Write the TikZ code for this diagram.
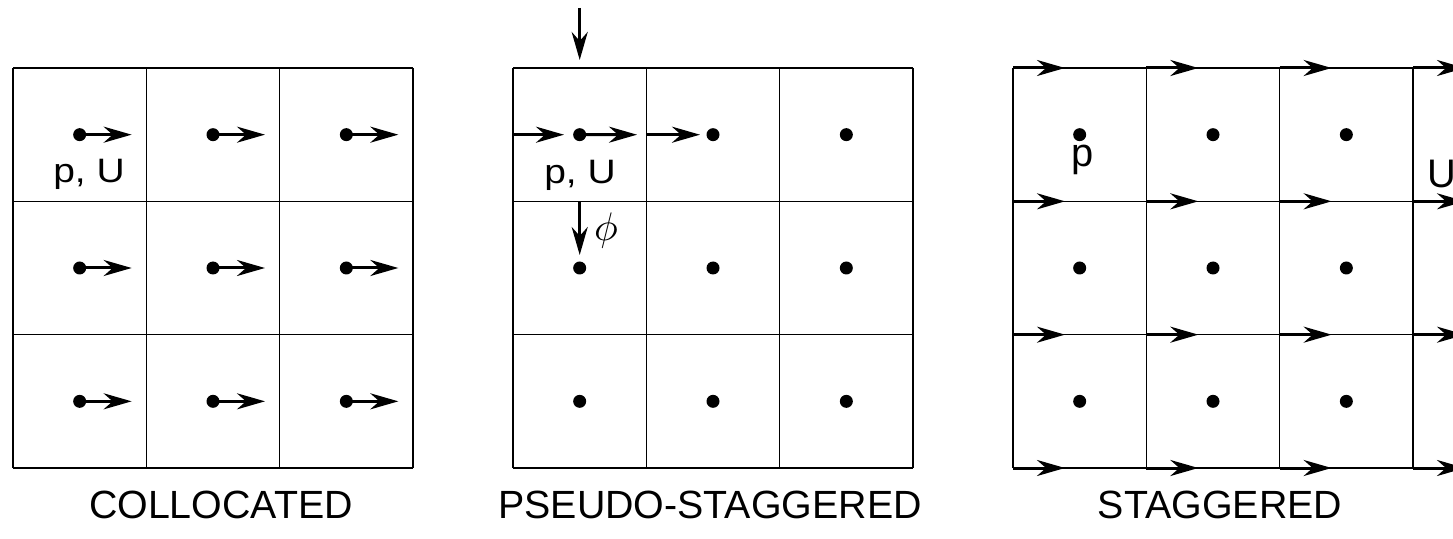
\documentclass[tikz,border=0pt]{standalone}
\usepackage{fontspec}
\setmainfont{Liberation Sans}
\usetikzlibrary{arrows.meta}
\begin{document}
\begin{tikzpicture}[x=1bp,y=-1bp,
  cellline/.style={line width=1.3bp, black},
  vec/.style={line width=3bp, -{Stealth[length=28bp,width=16bp,inset=9bp]}},
  pt/.style={circle, fill=black, inner sep=0pt, minimum size=13bp},
  lbl/.style={inner sep=0pt, font=\fontsize{34}{34}\selectfont},
  biglbl/.style={inner sep=0pt, font=\fontsize{40}{40}\selectfont},
  philbl/.style={inner sep=0pt},
  title/.style={inner sep=0pt, font=\fontsize{39.5}{40}\selectfont}]
\useasboundingbox (0,0) rectangle (1453,539);
\clip (0,0) rectangle (1453,539);
\def\cs{133.333}
% the three 3x3 grids
\foreach \ox in {13,513,1013}{
  \foreach \k in {0,...,3}{
    \draw[cellline] (\ox+\k*\cs,68) -- (\ox+\k*\cs,468);
    \draw[cellline] (\ox,68+\k*\cs) -- (\ox+400,68+\k*\cs);
  }
}
% collocated: pressure and velocity at every cell centre
\foreach \i in {0,1,2}{
  \foreach \j in {0,1,2}{
    \node[pt] (c\i\j) at (13+\cs*\i+\cs/2, 68+\cs*\j+\cs/2) {};
    \coordinate (ct\i\j) at (13+\cs*\i+\cs/2+52, 68+\cs*\j+\cs/2);
    \draw[vec] (c\i\j.center) -- (ct\i\j);
  }
}
\node[lbl, anchor=base] (clab) at (89,183) {\scalebox{1.15}[1]{p, U}};
\node[title, anchor=base] (ctitle) at (221,518) {COLLOCATED};

% pseudo-staggered: cell centres plus face fluxes
\foreach \i in {0,1,2}{
  \foreach \j in {0,1,2}{
    \node[pt] (m\i\j) at (513+\cs*\i+\cs/2, 68+\cs*\j+\cs/2) {};
  }
}
\coordinate (mfa) at (513,134.7);
\coordinate (mfat) at (564,134.7);
\coordinate (mcu) at (637,134.7);
\coordinate (mfb) at (646.3,134.7);
\coordinate (mfbt) at (700,134.7);
\coordinate (mtop) at (579.7,8);
\coordinate (mtopt) at (579.7,60);
\coordinate (mphi) at (579.7,201.3);
\coordinate (mphit) at (579.7,255);
\draw[vec] (mfa) -- (mfat);
\draw[vec] (m00.center) -- (mcu);
\draw[vec] (mfb) -- (mfbt);
\draw[vec] (mtop) -- (mtopt);
\draw[vec] (mphi) -- (mphit);
\node[lbl, anchor=base] (mlab) at (580,184) {\scalebox{1.15}[1]{p, U}};
\node[philbl] (mphil) at (606,231) {\scalebox{4}{$\phi$}};
\node[title, anchor=base] (mtitle) at (710,518) {PSEUDO-STAGGERED};

% staggered: pressure at centres, velocity on the faces
\foreach \i in {0,1,2}{
  \foreach \j in {0,1,2}{
    \node[pt] (s\i\j) at (1013+\cs*\i+\cs/2, 68+\cs*\j+\cs/2) {};
  }
}
\foreach \i in {0,...,3}{
  \foreach \j in {0,...,3}{
    \coordinate (sa\i\j) at (1013+\cs*\i, 68+\cs*\j);
    \coordinate (st\i\j) at (1013+\cs*\i+52, 68+\cs*\j);
    \draw[vec] (sa\i\j) -- (st\i\j);
  }
}
\node[biglbl, anchor=base] (slabp) at (1083,167) {p};
\node[biglbl, anchor=base west] (slabu) at (1427,188) {U};
\node[title, anchor=base] (stitle) at (1220,518) {STAGGERED};
\end{tikzpicture}
\end{document}
